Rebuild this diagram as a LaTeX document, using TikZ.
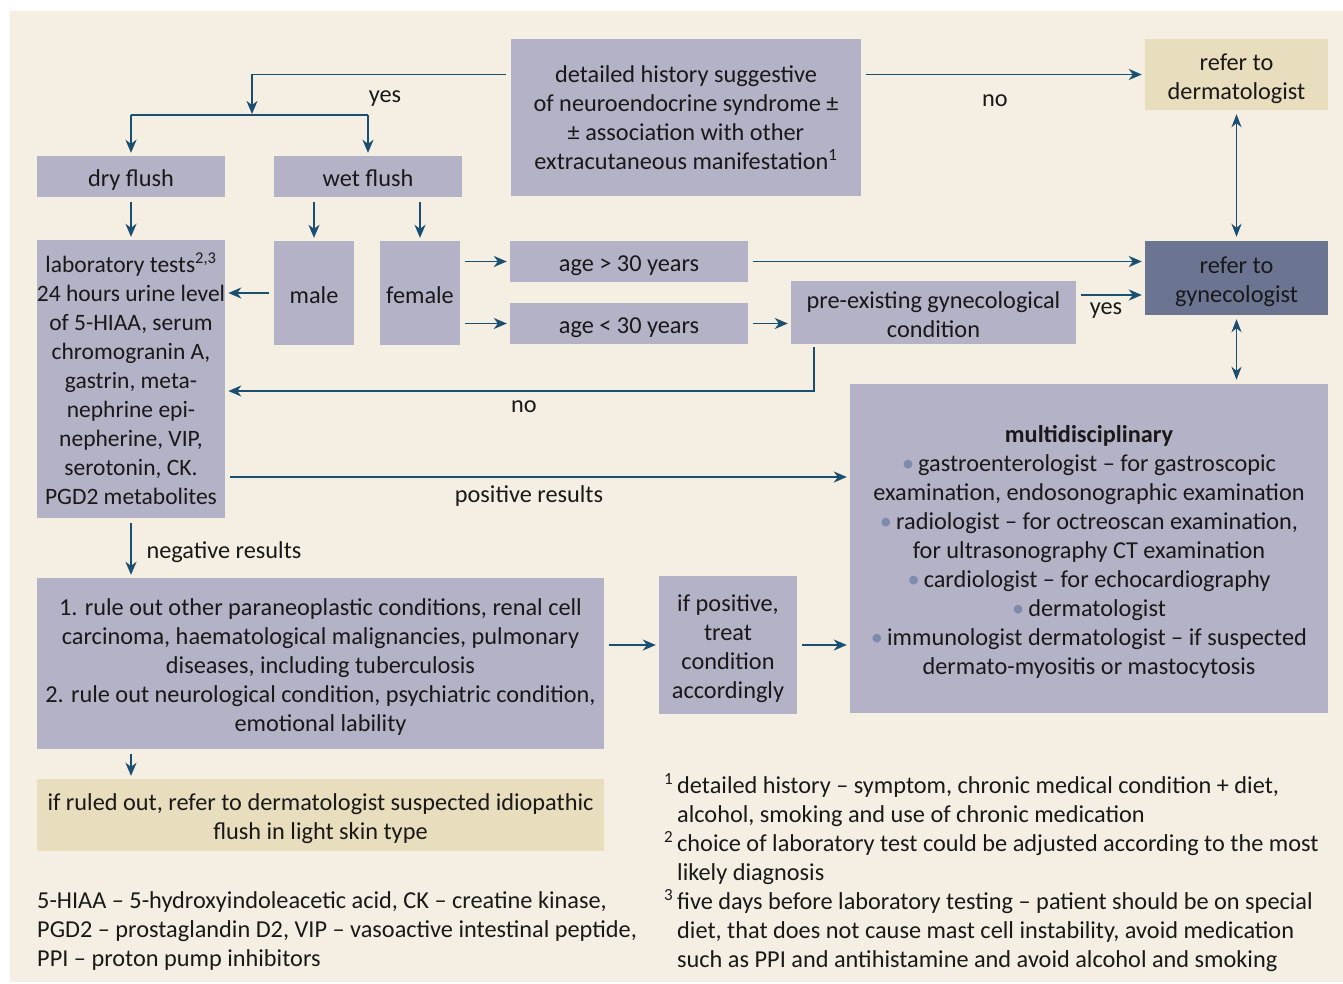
\documentclass[tikz,border=0pt]{standalone}
\usepackage{fontspec}
\setmainfont{Carlito}
\usepackage{xcolor}
\usetikzlibrary{arrows.meta,positioning}

\definecolor{panelbg}{HTML}{F5EFE3}
\definecolor{boxgray}{HTML}{B3B2C6}
\definecolor{boxbeige}{HTML}{E8DEBE}
\definecolor{boxdark}{HTML}{6B7592}
\definecolor{arrowblue}{HTML}{1B4F72}
\definecolor{bulletblue}{HTML}{7E8BAE}
\newcommand{\bul}{{\color{bulletblue}\textbullet}\,}
% struts that fix the text position inside the boxes
\newcommand{\ts}{\rule{0pt}{26pt}}
\newcommand{\bs}{\rule[-6pt]{0pt}{6pt}}

\begin{document}
\begin{tikzpicture}[x=1pt, y=-1pt,
    every node/.style={font=\fontsize{24.3}{29}\selectfont, text=black!90},
    graybox/.style={fill=boxgray, inner sep=0pt, align=center},
    beigebox/.style={fill=boxbeige, inner sep=0pt, align=center},
    darkbox/.style={fill=boxdark, inner sep=0pt, align=center},
    link/.style={draw=arrowblue, line width=1.8pt},
    arr/.style={link, -{Stealth[length=13pt,width=11pt,inset=4pt]}, shorten >=3pt, shorten <=5pt},
    biarr/.style={link, {Stealth[length=13pt,width=10pt,inset=4pt]}-{Stealth[length=13pt,width=10pt,inset=4pt]}, shorten >=4pt, shorten <=4pt}]
    % Background panel
    \useasboundingbox (0,0) rectangle (1343,983);
    \fill[white] (0,0) rectangle (1343,983);
    \fill[panelbg] (10,11) rectangle (1343,982);

    % Top row
    \node[graybox, minimum width=350pt, minimum height=157pt] (history) at (686,117.5)
        {detailed history suggestive\\of neuroendocrine syndrome ±\\± association with other\\extracutaneous manifestation\textsuperscript{1}};
    \node[beigebox, minimum width=183pt, minimum height=71pt] (derm) at (1236.5,74.5) {\ts refer to\\dermatologist\bs};
    \node[graybox, minimum width=188pt, minimum height=41pt] (dry) at (131,176.5) {\ts dry flush\bs};
    \node[graybox, minimum width=188pt, minimum height=41pt] (wet) at (368,176.5) {\ts wet flush\bs};

    % Middle row
    \node[graybox, minimum width=188pt, minimum height=278pt, font=\fontsize{23.5}{29}\selectfont] (lab) at (131,379)
        {laboratory tests\textsuperscript{2,3}\\24 hours urine level\\of 5-HIAA, serum\\chromogranin A,\\gastrin, meta-\\nephrine epi-\\nepherine, VIP,\\serotonin, CK.\\PGD2 metabolites};
    \node[graybox, minimum width=80pt, minimum height=104pt] (male) at (314,293) {\ts male\bs};
    \node[graybox, minimum width=80pt, minimum height=104pt] (female) at (420,293) {\ts female\bs};
    \node[graybox, minimum width=238pt, minimum height=41pt] (older) at (629,261.5) {\ts age > 30 years\bs};
    \node[graybox, minimum width=238pt, minimum height=41pt] (younger) at (629,323.5) {\ts age < 30 years\bs};
    \node[graybox, minimum width=285pt, minimum height=63pt] (preex) at (933.5,312.5) {\ts pre-existing gynecological\\condition\bs};
    \node[darkbox, minimum width=183pt, minimum height=74pt] (gyn) at (1236.5,278) {\ts refer to\\gynecologist\bs};

    % Lower row
    \node[graybox, minimum width=478pt, minimum height=329pt] (multi) at (1089,548.5)
        {\ts\textbf{multidisciplinary}\\
         \bul gastroenterologist – for gastroscopic\\
         examination, endosonographic examination\\
         \bul radiologist – for octreoscan examination,\\
         for ultrasonography CT examination\\
         \bul cardiologist – for echocardiography\\
         \bul dermatologist\\
         \bul immunologist dermatologist – if suspected\\
         dermato-myositis or mastocytosis\bs};
    \node[graybox, minimum width=567pt, minimum height=171pt] (ruleout) at (320.5,663.5)
        {\ts 1. rule out other paraneoplastic conditions, renal cell\\
         carcinoma, haematological malignancies, pulmonary\\
         diseases, including tuberculosis\\
         2. rule out neurological condition, psychiatric condition,\\
         emotional lability\bs};
    \node[graybox, minimum width=138pt, minimum height=138pt] (ifpos) at (728,645) {\ts if positive,\\treat\\condition\\accordingly\bs};
    \node[beigebox, minimum width=567pt, minimum height=72pt] (idiopathic) at (320.5,815)
        {\ts if ruled out, refer to dermatologist suspected idiopathic\\flush in light skin type\bs};

    % Connectors
    \coordinate (yesjoint) at (252,115);
    \coordinate (noturn) at (814,391);
    \draw[arr, shorten >=1pt] (history.west |- derm.west) -| (yesjoint);
    \draw[link] (yesjoint -| dry.north) -- (yesjoint -| wet.north);
    \draw[arr, shorten <=0pt] (yesjoint -| dry.north) -- (dry.north);
    \draw[arr, shorten <=0pt] (yesjoint -| wet.north) -- (wet.north);
    \draw[arr] (history.east |- derm.west) -- (derm.west);
    \draw[arr] (dry.south) -- (lab.north);
    \draw[arr] (wet.south -| male) -- (male.north);
    \draw[arr] (wet.south -| female) -- (female.north);
    \draw[arr] (male.west) -- (male.west -| lab.east);
    \draw[arr] (female.east |- older.west) -- (older.west);
    \draw[arr] (female.east |- younger.west) -- (younger.west);
    \draw[arr] (older.east) -- (older.east -| gyn.west);
    \draw[arr] (younger.east) -- (younger.east -| preex.west);
    \draw[arr] ([yshift=17.5pt]preex.east) -- ([yshift=17.5pt]preex.east -| gyn.west);
    \draw[arr, shorten <=3pt] (preex.south -| noturn) -- (noturn) -- (noturn -| lab.east);
    \draw[arr] ([yshift=-98pt]lab.east) -- ([yshift=-98pt]lab.east -| multi.west);
    \draw[arr] (lab.south) -- (lab.south |- ruleout.north);
    \draw[arr] (ruleout.east |- ifpos.west) -- (ifpos.west);
    \draw[arr] (ifpos.east) -- (ifpos.east -| multi.west);
    \draw[arr] (ruleout.south -| lab.south) -- (idiopathic.north -| lab.south);
    \draw[biarr] (derm.south) -- (gyn.north);
    \draw[biarr] (gyn.south) -- (gyn.south |- multi.north);

    % Connector labels
    \node (yeslabel) at (385,99) {yes};
    \node (nolabel) at (995,101) {no};
    \node (yesgyn) at (1106,311) {yes};
    \node (nolab) at (524,407) {no};
    \node (posres) at (529,496) {positive results};
    \node[anchor=west] (negres) at (143,552) {negative results};

    % Footnotes
    \node[anchor=west, align=left, inner sep=0pt] (abbrev) at (37,931)
        {5-HIAA – 5-hydroxyindoleacetic acid, CK – creatine kinase,\\
         PGD2 – prostaglandin D2, VIP – vasoactive intestinal peptide,\\
         PPI – proton pump inhibitors};
    \node[anchor=west, align=left, inner sep=0pt] (notes) at (677,872.5)
        {\llap{\textsuperscript{1}\,}detailed history – symptom, chronic medical condition + diet,\\
         alcohol, smoking and use of chronic medication\\
         \llap{\textsuperscript{2}\,}choice of laboratory test could be adjusted according to the most\\
         likely diagnosis\\
         \llap{\textsuperscript{3}\,}five days before laboratory testing – patient should be on special\\
         diet, that does not cause mast cell instability, avoid medication\\
         such as PPI and antihistamine and avoid alcohol and smoking};
\end{tikzpicture}
\end{document}
